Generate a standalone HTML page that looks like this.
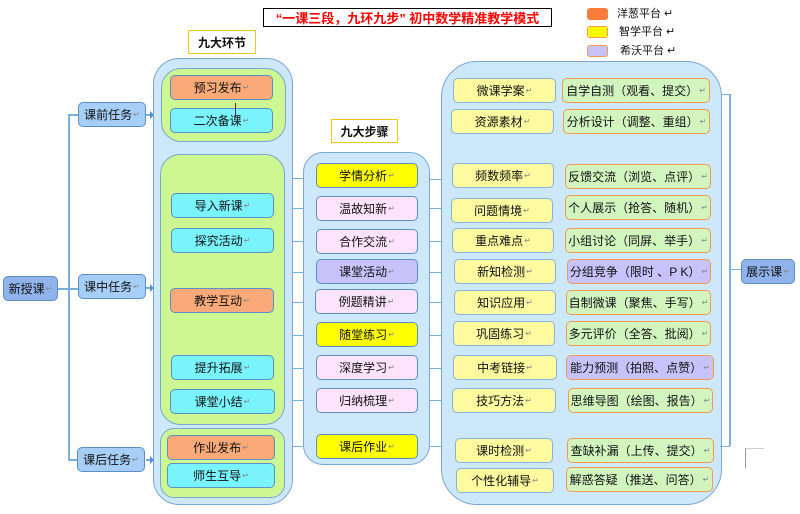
<!DOCTYPE html>
<html><head><meta charset="utf-8"><style>
body{margin:0;width:800px;height:514px;background:#fff;position:relative;overflow:hidden;font-family:"Liberation Sans","Noto Sans CJK SC",sans-serif;font-size:12px;color:#111}
div{position:absolute;box-sizing:border-box}
.b{display:flex;align-items:center;justify-content:center;border:1px solid #5b8fc7;border-radius:5px;height:25px;white-space:nowrap}
.b:after{content:"↵";font-size:8px;color:#888;margin-left:1px}
.c{background:#cce8fa;border:1.5px solid #7aa7d6;border-radius:26px}
.g{background:#ccf793;border:1.5px solid #7aa7d6;border-radius:20px}
.o{background:#f9aa78}.cy{background:#7af4fc}.y{background:#ffff00}.p{background:#fde3fb}.l{background:#c8c2fb}
.py{background:#fdfaa0;border-color:#8ab3e0}
.gr{background:#d2f5c0;border-color:#f39a4c}
.gl{background:#c8c2fb;border-color:#f39a4c}
.t{background:#a6cef7}
.ln{background:#7ab0e0}
</style></head><body>
<div style="left:263px;top:8px;width:289px;height:19px;border:1px solid #000;color:#f00;font-weight:bold;font-size:13px;display:flex;align-items:center;justify-content:center;white-space:nowrap">“一课三段，九环九步”&nbsp;初中数学精准教学模式</div>
<div style="left:587px;top:8px;width:21px;height:12px;background:#f97c3c;border-radius:3px"></div>
<div style="left:587px;top:26px;width:21px;height:12px;background:#ffff00;border:1px solid #f39a4c;border-radius:3px"></div>
<div style="left:587px;top:45px;width:21px;height:12px;background:#c8c2fb;border:1px solid #f39a4c;border-radius:3px"></div>
<div style="left:617px;top:5px;font-size:11px">洋葱平台 ↵</div>
<div style="left:619px;top:23px;font-size:11px">智学平台 ↵</div>
<div style="left:620px;top:42px;font-size:11px">希沃平台 ↵</div>

<div style="left:188px;top:30px;width:68px;height:24px;border:1.5px solid #f5c518;display:flex;align-items:center;justify-content:center;font-weight:bold">九大环节</div>
<div style="left:331px;top:119px;width:67px;height:24px;border:1.5px solid #f5c518;display:flex;align-items:center;justify-content:center;font-weight:bold">九大步骤</div>

<div class="ln" style="left:68px;top:114px;width:1.5px;height:346px"></div>
<div class="ln" style="left:68px;top:114px;width:10px;height:1.5px"></div>
<div class="ln" style="left:68px;top:459px;width:10px;height:1.5px"></div>
<div class="ln" style="left:58px;top:288px;width:20px;height:1.5px"></div>
<div class="ln" style="left:146px;top:114px;width:5px;height:1.5px"></div>
<div class="ln" style="left:146px;top:287px;width:5px;height:1.5px"></div>
<div class="ln" style="left:146px;top:459px;width:5px;height:1.5px"></div>
<div style="left:150px;top:111px;border-left:4px solid #4a8fd8;border-top:4px solid transparent;border-bottom:4px solid transparent"></div>
<div style="left:150px;top:284px;border-left:4px solid #4a8fd8;border-top:4px solid transparent;border-bottom:4px solid transparent"></div>
<div style="left:150px;top:456px;border-left:4px solid #4a8fd8;border-top:4px solid transparent;border-bottom:4px solid transparent"></div>

<div class="b" style="left:3px;top:276px;width:55px;background:#8fb3ea">新授课</div>
<div class="b t" style="left:78px;top:102px;width:68px">课前任务</div>
<div class="b t" style="left:78px;top:274px;width:68px">课中任务</div>
<div class="b t" style="left:77px;top:447px;width:68px">课后任务</div>

<div class="c" style="left:153px;top:58px;width:140px;height:447px"></div>
<div class="g" style="left:161px;top:68px;width:125px;height:74px"></div>
<div class="g" style="left:160px;top:154px;width:125px;height:271px"></div>
<div class="g" style="left:160px;top:428px;width:125px;height:70px;border-radius:14px"></div>
<div class="b o" style="left:170px;top:75px;width:103px">预习发布</div>
<div class="b cy" style="left:170px;top:108px;width:103px">二次备课</div>
<div style="left:235px;top:103px;width:1px;height:14px;background:#602040"></div>
<div class="b cy" style="left:171px;top:193px;width:103px">导入新课</div>
<div class="b cy" style="left:171px;top:228px;width:103px">探究活动</div>
<div class="b o" style="left:170px;top:288px;width:104px">教学互动</div>
<div class="b cy" style="left:171px;top:355px;width:103px">提升拓展</div>
<div class="b cy" style="left:170px;top:389px;width:105px">课堂小结</div>
<div class="b o" style="left:167px;top:435px;width:108px">作业发布</div>
<div class="b cy" style="left:167px;top:463px;width:108px">师生互导</div>

<div class="ln" style="left:293px;top:178px;width:10px;height:1px"></div>
<div class="ln" style="left:293px;top:208px;width:10px;height:1px"></div>
<div class="ln" style="left:293px;top:241px;width:10px;height:1px"></div>
<div class="ln" style="left:293px;top:272px;width:10px;height:1px"></div>
<div class="ln" style="left:293px;top:302px;width:10px;height:1px"></div>
<div class="ln" style="left:293px;top:335px;width:10px;height:1px"></div>
<div class="ln" style="left:293px;top:368px;width:10px;height:1px"></div>
<div class="ln" style="left:293px;top:400px;width:10px;height:1px"></div>
<div class="ln" style="left:293px;top:446px;width:10px;height:1px"></div>

<div class="c" style="left:303px;top:152px;width:127px;height:313px;border-radius:20px"></div>
<div class="b y" style="left:316px;top:163px;width:102px">学情分析</div>
<div class="b p" style="left:316px;top:196px;width:102px">温故知新</div>
<div class="b p" style="left:316px;top:229px;width:102px">合作交流</div>
<div class="b l" style="left:316px;top:259px;width:102px">课堂活动</div>
<div class="b p" style="left:315px;top:289px;width:103px">例题精讲</div>
<div class="b y" style="left:316px;top:322px;width:102px">随堂练习</div>
<div class="b p" style="left:316px;top:355px;width:102px">深度学习</div>
<div class="b p" style="left:316px;top:388px;width:102px">归纳梳理</div>
<div class="b y" style="left:316px;top:434px;width:102px">课后作业</div>

<div class="ln" style="left:430px;top:179px;width:11px;height:1px"></div>
<div class="ln" style="left:430px;top:208px;width:11px;height:1px"></div>
<div class="ln" style="left:430px;top:241px;width:11px;height:1px"></div>
<div class="ln" style="left:430px;top:272px;width:11px;height:1px"></div>
<div class="ln" style="left:430px;top:302px;width:11px;height:1px"></div>
<div class="ln" style="left:430px;top:335px;width:11px;height:1px"></div>
<div class="ln" style="left:430px;top:368px;width:11px;height:1px"></div>
<div class="ln" style="left:430px;top:400px;width:11px;height:1px"></div>
<div class="ln" style="left:430px;top:446px;width:11px;height:1px"></div>

<div class="c" style="left:441px;top:61px;width:281px;height:444px;border-radius:36px"></div>
<div class="b py" style="left:453px;top:78px;width:103px">微课学案</div>
<div class="b py" style="left:451px;top:109px;width:103px">资源素材</div>
<div class="b py" style="left:452px;top:163px;width:102px">频数频率</div>
<div class="b py" style="left:451px;top:198px;width:102px">问题情境</div>
<div class="b py" style="left:452px;top:228px;width:102px">重点难点</div>
<div class="b py" style="left:454px;top:259px;width:102px">新知检测</div>
<div class="b py" style="left:454px;top:290px;width:102px">知识应用</div>
<div class="b py" style="left:453px;top:321px;width:102px">巩固练习</div>
<div class="b py" style="left:453px;top:355px;width:104px">中考链接</div>
<div class="b py" style="left:452px;top:388px;width:104px">技巧方法</div>
<div class="b py" style="left:455px;top:438px;width:98px">课时检测</div>
<div class="b py" style="left:456px;top:468px;width:98px">个性化辅导</div>

<div class="b gr" style="left:562px;top:78px;width:148px">自学自测（观看、提交）</div>
<div class="b gr" style="left:563px;top:109px;width:147px">分析设计（调整、重组）</div>
<div class="b gr" style="left:565px;top:164px;width:146px">反馈交流（浏览、点评）</div>
<div class="b gr" style="left:565px;top:195px;width:146px">个人展示（抢答、随机）</div>
<div class="b gr" style="left:565px;top:228px;width:146px">小组讨论（同屏、举手）</div>
<div class="b gl" style="left:567px;top:259px;width:144px">分组竞争（限时 、P K）</div>
<div class="b gr" style="left:566px;top:290px;width:145px">自制微课（聚焦、手写）</div>
<div class="b gr" style="left:566px;top:321px;width:145px">多元评价（全答、批阅）</div>
<div class="b gl" style="left:566px;top:355px;width:148px">能力预测（拍照、点赞）</div>
<div class="b gr" style="left:568px;top:388px;width:145px">思维导图（绘图、报告）</div>
<div class="b gr" style="left:567px;top:438px;width:147px">查缺补漏（上传、提交）</div>
<div class="b gr" style="left:566px;top:467px;width:147px">解惑答疑（推送、问答）</div>

<div class="ln" style="left:722px;top:94px;width:8px;height:1px"></div>
<div class="ln" style="left:729px;top:94px;width:1.5px;height:352px"></div>
<div class="ln" style="left:720px;top:446px;width:10px;height:1px"></div>
<div class="ln" style="left:729px;top:269px;width:12px;height:1px"></div>
<div class="b" style="left:741px;top:259px;width:54px;background:#8fb3ea">展示课</div>
<div style="left:745px;top:448px;width:19px;height:20px;border-left:1px solid #999;border-top:1px solid #ccc"></div>
</body></html>
